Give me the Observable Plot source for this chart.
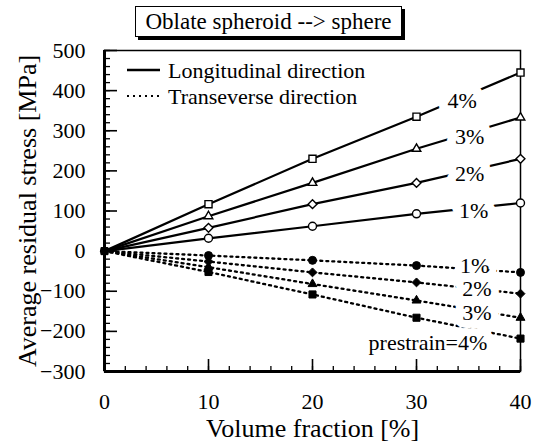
<!DOCTYPE html>
<html><head><meta charset="utf-8">
<script src="https://cdn.jsdelivr.net/npm/d3@7"></script>
<script src="https://cdn.jsdelivr.net/npm/@observablehq/plot@0.6"></script>
<style>
body{margin:0;background:#fff;}
#wrap{position:relative;width:536px;height:445px;font-family:"Liberation Serif","Tinos","Times New Roman","DejaVu Serif",serif;}
#title{position:absolute;left:135px;top:6px;width:265px;height:29px;border:1.5px solid #000;box-shadow:3px 3px 0 #000;background:#fff;font-size:23px;line-height:29px;text-align:center;color:#000;white-space:nowrap;}
#legend{position:absolute;left:0;top:0;overflow:visible;}
</style></head><body>
<div id="wrap"><div id="chart"></div><div id="title"></div><svg id="legend" width="536" height="120"></svg></div>
<script>
// ---- data ----
const titleText = "Oblate spheroid --> sphere";
const xLabel = "Volume fraction [%]";
const yLabel = "Average residual stress [MPa]";
const volumeFraction = [0, 10, 20, 30, 40];
const prestrains = ["1%", "2%", "3%", "4%"];
const symbols = ["circle", "diamond2", "triangle", "square"];
const longitudinal = [
  [0, 32, 62, 93, 120],
  [0, 58, 117, 170, 230],
  [0, 87, 170, 255, 333],
  [0, 117, 230, 335, 445]
];
const transverse = [
  [0, -11, -23, -36, -53],
  [0, -26, -53, -78, -106],
  [0, -40, -82, -123, -166],
  [0, -52, -108, -166, -218]
];
const longLabelText = ["1%", "2%", "3%", "4%"];
const longLabelX = [35.5, 35.1, 35.1, 34.4];
const longLabelY = [101, 193, 284, 375];
const transLabelText = ["1%", "2%", "3%", "prestrain=4%"];
const transLabelX = [35.6, 35.8, 35.8, 31.1];
const transLabelY = [-36, -94, -154, -230];
const legendItems = ["Longitudinal direction", "Transeverse direction"];
const xDomain = [0, 40], yDomain = [-300, 500];
const xMajor = [0, 10, 20, 30, 40];
const xMinor = d3.range(0, 41, 2);
const yMajor = d3.range(-300, 501, 100);
const yMinor = d3.range(-300, 501, 20);

// ---- layout ----
const W = 536, H = 445, mL = 104, mR = 16, mT = 50, mB = 74;
const innerW = W - mL - mR, innerH = H - mT - mB;

function rowsOf(values) {
  const rows = [];
  values.forEach((s, i) => s.forEach((v, j) => rows.push({p: prestrains[i], sym: symbols[i], x: volumeFraction[j], y: v})));
  return rows;
}
const longRows = rowsOf(longitudinal);
const transRows = rowsOf(transverse);
const longLabels = longLabelText.map((t, i) => ({t, x: longLabelX[i], y: longLabelY[i]}));
const transLabels = transLabelText.map((t, i) => ({t, x: transLabelX[i], y: transLabelY[i]}));
const isTri = d => d.sym === "triangle";

const font = "'Liberation Serif', Tinos, 'Times New Roman', 'DejaVu Serif', serif";
const chart = Plot.plot({
  width: W, height: H,
  marginLeft: mL, marginRight: mR, marginTop: mT, marginBottom: mB,
  style: {fontFamily: font, fontSize: "22px", color: "black", background: "white", overflow: "visible"},
  x: {domain: xDomain},
  y: {domain: yDomain},
  symbol: {type: "identity"},
  marks: [
    Plot.axisX({ticks: xMajor, tickSize: 0, tickPadding: 22, label: null, fontSize: 22}),
    Plot.axisY({ticks: yMajor, tickSize: 0, tickPadding: 19, label: null, fontSize: 22}),
    Plot.tickX(xMinor, {x: d => d, insetTop: innerH - 5, strokeWidth: 1.3}),
    Plot.tickX(xMajor, {x: d => d, insetTop: innerH - 12, strokeWidth: 1.6}),
    Plot.tickY(yMinor, {y: d => d, insetRight: innerW - 6, strokeWidth: 1.3}),
    Plot.tickY(yMajor, {y: d => d, insetRight: innerW - 13, strokeWidth: 1.6}),
    Plot.frame({strokeWidth: 1.5}),
    Plot.ruleX([xDomain[0]], {strokeWidth: 3}),
    Plot.ruleY([yDomain[0]], {strokeWidth: 3}),
    Plot.line(longRows, {x: "x", y: "y", z: "p", stroke: "black", strokeWidth: 2.2}),
    Plot.line(transRows, {x: "x", y: "y", z: "p", stroke: "black", strokeWidth: 2.3, strokeDasharray: "2,4"}),
    Plot.text(longLabels, {x: "x", y: "y", text: "t", fontSize: 22, fill: "black", stroke: "white", strokeWidth: 18}),
    Plot.text(transLabels, {x: "x", y: "y", text: "t", fontSize: 22, fill: "black", stroke: "white", strokeWidth: 16}),
    Plot.dot(longRows.filter(d => d.x > 0 && !isTri(d)), {x: "x", y: "y", symbol: "sym", r: 4, fill: "white", stroke: "black", strokeWidth: 1.4}),
    Plot.dot(longRows.filter(d => d.x > 0 && isTri(d)), {x: "x", y: "y", symbol: "sym", r: 3.2, fill: "white", stroke: "black", strokeWidth: 1.4}),
    Plot.dot(transRows.filter(d => !isTri(d)), {x: "x", y: "y", symbol: "sym", r: 4, fill: "black", stroke: "black", strokeWidth: 1}),
    Plot.dot(transRows.filter(d => isTri(d) && d.x > 0), {x: "x", y: "y", symbol: "sym", r: 3.3, fill: "black", stroke: "black", strokeWidth: 1}),
    Plot.text([xLabel], {text: d => d, frameAnchor: "bottom", lineAnchor: "middle", textAnchor: "middle", dy: 57, fontSize: 26}),
    Plot.text([yLabel], {text: d => d, frameAnchor: "left", lineAnchor: "middle", textAnchor: "middle", dx: -77, rotate: -90, fontSize: 26})
  ]
});
document.getElementById("chart").appendChild(chart);
document.getElementById("title").textContent = titleText;

// legend
const lg = d3.select("#legend");
legendItems.forEach((t, i) => {
  const y = 70 + i * 26;
  lg.append("line").attr("x1", 127).attr("x2", 160).attr("y1", y).attr("y2", y)
    .attr("stroke", "black").attr("stroke-width", i ? 2 : 2.5)
    .attr("stroke-dasharray", i ? "2,4" : null);
  lg.append("text").attr("x", 168).attr("y", y).attr("dy", "0.35em")
    .attr("font-family", font).attr("font-size", 22).text(t);
});
</script>
</body></html>
